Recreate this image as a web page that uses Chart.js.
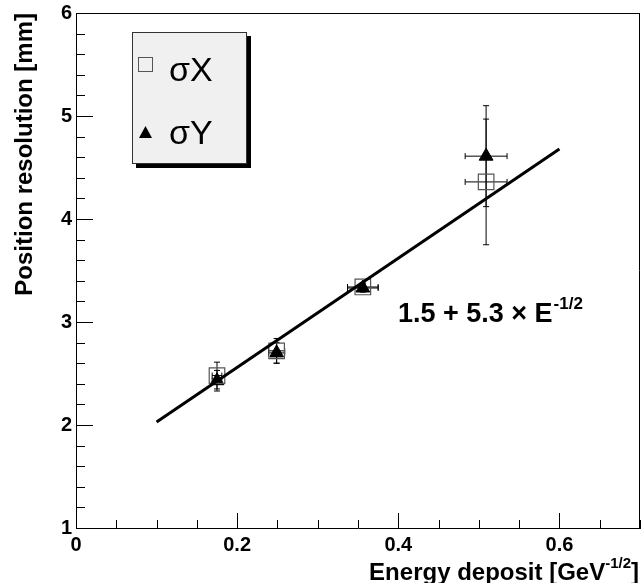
<!DOCTYPE html>
<html>
<head>
<meta charset="utf-8">
<script src="https://cdn.jsdelivr.net/npm/chart.js@4"></script>
<style>
html,body{margin:0;padding:0;background:#fff}
#wrap{width:641px;height:583px}
</style>
</head>
<body>
<div id="wrap"><canvas id="c" width="641" height="583"></canvas></div>
<script>
// energy deposit (GeV^-1/2) of each point and its horizontal error
const energyX = [0.175, 0.249, 0.356, 0.509]
const energyErr = [0.006, 0.01, 0.019, 0.026]
// position resolution, mm
const sigmaX = [2.48, 2.72, 3.34, 4.36]
const sigmaXErr = [0.13, 0.12, 0.04, 0.61]
const sigmaY = [2.43, 2.70, 3.33, 4.61]
const sigmaYErr = [0.1, 0.1, 0.04, 0.49]
// fitted line end points
const fitX = [0.1, 0.6]
const fitY = [2.03, 4.68]
const xTicks = [0, 0.2, 0.4, 0.6]
const yTicks = [1, 2, 3, 4, 5, 6]

const FONT = '"Liberation Sans", Arial, Helvetica, sans-serif'

function pts(xs, ys){return xs.map((x,i)=>({x:x,y:ys[i]}))}

const rootFrame = {
  id:'rootFrame',
  beforeDatasetsDraw(chart){
    const {ctx, chartArea:a, scales:{x, y}} = chart
    ctx.save()
    ctx.strokeStyle = '#000'
    ctx.lineWidth = 1
    // frame top / right
    ctx.beginPath()
    ctx.moveTo(a.left, a.top + 0.5); ctx.lineTo(a.right, a.top + 0.5)
    ctx.moveTo(a.right - 0.5, a.top); ctx.lineTo(a.right - 0.5, a.bottom)
    ctx.stroke()
    // inward ticks
    ctx.beginPath()
    for (let v = 1; v <= 6.001; v += 0.2) {
      const py = Math.round(y.getPixelForValue(v)) + 0.5
      const major = Math.abs(v - Math.round(v)) < 1e-6
      ctx.moveTo(a.left, py); ctx.lineTo(a.left + (major ? 17 : 9), py)
    }
    for (let v = 0; v <= 0.7001; v += 0.05) {
      const px = Math.round(x.getPixelForValue(v)) + 0.5
      const major = Math.abs(v / 0.2 - Math.round(v / 0.2)) < 1e-6
      ctx.moveTo(px, a.bottom); ctx.lineTo(px, a.bottom - (major ? 15 : 8))
    }
    ctx.stroke()
    // error bars
    const bars = (ys, errs) => {
      energyX.forEach((ex, i) => {
        const px = x.getPixelForValue(ex), py = y.getPixelForValue(ys[i])
        const x0 = x.getPixelForValue(ex - energyErr[i]), x1 = x.getPixelForValue(ex + energyErr[i])
        const y0 = y.getPixelForValue(ys[i] - errs[i]), y1 = y.getPixelForValue(ys[i] + errs[i])
        ctx.beginPath()
        ctx.moveTo(x0, py); ctx.lineTo(x1, py)
        ctx.moveTo(x0, py - 3); ctx.lineTo(x0, py + 3)
        ctx.moveTo(x1, py - 3); ctx.lineTo(x1, py + 3)
        ctx.moveTo(px, y0); ctx.lineTo(px, y1)
        ctx.moveTo(px - 3, y0); ctx.lineTo(px + 3, y0)
        ctx.moveTo(px - 3, y1); ctx.lineTo(px + 3, y1)
        ctx.stroke()
      })
    }
    bars(sigmaX, sigmaXErr)
    bars(sigmaY, sigmaYErr)
    ctx.restore()
  },
  afterDraw(chart){
    const ctx = chart.ctx
    ctx.save()
    ctx.fillStyle = '#000'
    // y title
    ctx.save()
    ctx.translate(32, 13)
    ctx.rotate(-Math.PI / 2)
    ctx.font = 'bold 24px ' + FONT
    ctx.textAlign = 'right'
    ctx.textBaseline = 'alphabetic'
    ctx.fillText('Position resolution [mm]', 0, 0)
    ctx.restore()
    // x title with superscript
    ctx.textBaseline = 'alphabetic'
    ctx.textAlign = 'left'
    const main = 'Energy deposit [GeV', sup = '-1/2', end = ']'
    ctx.font = 'bold 15px ' + FONT
    const wSup = ctx.measureText(sup).width
    ctx.font = 'bold 24px ' + FONT
    const wMain = ctx.measureText(main).width, wEnd = ctx.measureText(end).width
    let tx = 639 - wEnd - wSup - wMain
    ctx.fillText(main, tx, 580)
    ctx.fillText(end, tx + wMain + wSup, 580)
    ctx.font = 'bold 15px ' + FONT
    ctx.fillText(sup, tx + wMain, 568)
    // fit annotation
    ctx.font = 'bold 27px ' + FONT
    const ann = '1.5 + 5.3 \u00d7 E'
    const wAnn = ctx.measureText(ann).width
    ctx.fillText(ann, 398, 322)
    ctx.font = 'bold 17px ' + FONT
    ctx.fillText('-1/2', 398 + wAnn + 1, 309)
    // legend box with shadow
    ctx.fillStyle = '#000'
    ctx.fillRect(136, 36, 115, 132)
    ctx.fillStyle = '#f0f0f0'
    ctx.fillRect(132, 32, 115, 132)
    ctx.strokeStyle = '#333'
    ctx.lineWidth = 1
    ctx.strokeRect(132.5, 32.5, 114, 131)
    ctx.strokeStyle = '#555'
    ctx.strokeRect(138.5, 57.5, 14, 14)
    ctx.fillStyle = '#000'
    ctx.beginPath()
    ctx.moveTo(145.5, 126); ctx.lineTo(152, 138); ctx.lineTo(139, 138); ctx.closePath()
    ctx.fill()
    ctx.font = '34px ' + FONT
    ctx.textBaseline = 'middle'
    ctx.fillText('\u03c3X', 169, 72)
    ctx.fillText('\u03c3Y', 169, 135)
    ctx.restore()
  }
}

new Chart(document.getElementById('c'), {
  type:'scatter',
  data:{datasets:[
    {label:'fit', type:'line', data:pts(fitX, fitY), borderColor:'#000', borderWidth:3, pointRadius:0, fill:false, tension:0},
    {label:'\u03c3X', data:pts(energyX, sigmaX), pointStyle:'rect', pointRadius:11, borderColor:'#555', borderWidth:1.2, backgroundColor:'rgba(0,0,0,0)'},
    {label:'\u03c3Y', data:pts(energyX, sigmaY), pointStyle:'triangle', pointRadius:8, borderColor:'#000', borderWidth:1, backgroundColor:'#000'}
  ]},
  options:{
    responsive:false, animation:false, devicePixelRatio:1,
    layout:{autoPadding:false, padding:{top:13, right:1, left:0, bottom:0}},
    plugins:{legend:{display:false}, tooltip:{enabled:false}},
    scales:{
      x:{type:'linear', min:0, max:0.7,
        afterFit(s){s.height = 55; s.paddingLeft = 0; s.paddingRight = 0},
        afterBuildTicks(s){s.ticks = xTicks.map(v=>({value:v}))},
        grid:{display:false, drawTicks:false},
        border:{display:true, color:'#000', width:1},
        ticks:{padding:5, color:'#000', font:{family:FONT, size:20, weight:'bold'}, maxRotation:0}
      },
      y:{type:'linear', min:1, max:6,
        afterFit(s){s.width = 76; s.paddingTop = 0; s.paddingBottom = 0},
        afterBuildTicks(s){s.ticks = yTicks.map(v=>({value:v}))},
        grid:{display:false, drawTicks:false},
        border:{display:true, color:'#000', width:1},
        ticks:{padding:4, color:'#000', font:{family:FONT, size:20, weight:'bold'}}
      }
    }
  },
  plugins:[rootFrame]
})
</script>
</body>
</html>
